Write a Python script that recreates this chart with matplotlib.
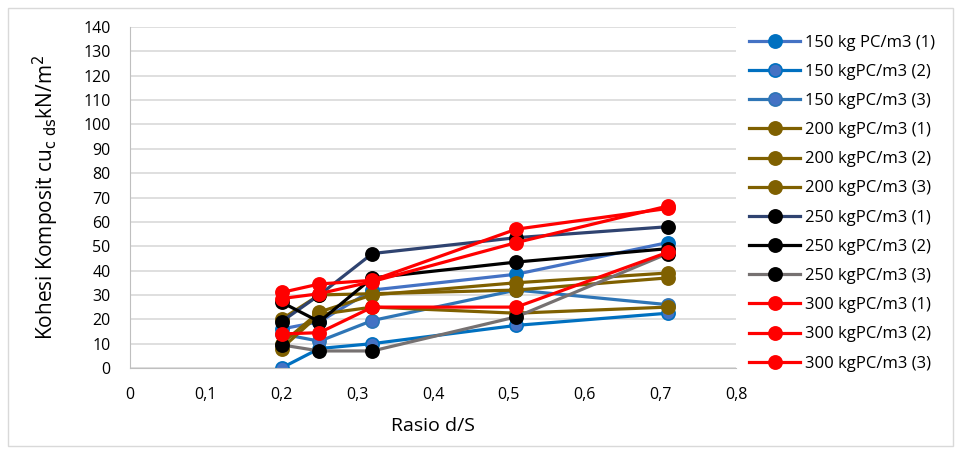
import matplotlib.pyplot as plt
from matplotlib.patches import Rectangle
from matplotlib.ticker import FuncFormatter, MultipleLocator

plt.rcParams['font.family'] = ['Open Sans', 'DejaVu Sans']

rasio = [0.2, 0.25, 0.32, 0.51, 0.71]

labels = ['150 kg PC/m3 (1)', '150 kgPC/m3 (2)', '150 kgPC/m3 (3)',
          '200 kgPC/m3 (1)', '200 kgPC/m3 (2)', '200 kgPC/m3 (3)',
          '250 kgPC/m3 (1)', '250 kgPC/m3 (2)', '250 kgPC/m3 (3)',
          '300 kgPC/m3 (1)', '300 kgPC/m3 (2)', '300 kgPC/m3 (3)']

kohesi = [
    [16, 19, 32, 38.5, 51.5],
    [0, 8, 10, 17.5, 22.5],
    [14, 11, 19.5, 32, 26],
    [8, 22, 25, 22.5, 25],
    [10, 23, 30, 35, 39],
    [20, 30, 30.5, 32, 37],
    [19, 30, 47, 53.5, 58],
    [27, 19, 37, 43.5, 49],
    [9.5, 7, 7, 21, 47],
    [31, 34.5, 36, 57, 65.5],
    [28.5, 30.5, 35.5, 51.5, 66.5],
    [14, 14.5, 25, 25, 47.5],
]

line_colors = ['#4472C4', '#0070C0', '#2E75B6',
               '#7F6000', '#7F6000', '#7F6000',
               '#2F4370', '#000000', '#767171',
               '#FF0000', '#FF0000', '#FF0000']
face_colors = ['#0070C0', '#4472C4', '#4472C4',
               '#7F6000', '#7F6000', '#7F6000',
               '#000000', '#000000', '#000000',
               '#FF0000', '#FF0000', '#FF0000']
edge_colors = ['#0070C0', '#0070C0', '#2E75B6',
               '#7F6000', '#7F6000', '#7F6000',
               '#000000', '#000000', '#000000',
               '#FF0000', '#FF0000', '#FF0000']

fig = plt.figure(figsize=(9.59, 4.54), dpi=100)
ax = fig.add_axes([130 / 959, 1 - 368 / 454, 606 / 959, 341 / 454])

for lab, vals, lc, fc, ec in zip(labels, kohesi, line_colors, face_colors, edge_colors):
    ax.plot(rasio, vals, color=lc, lw=2.3, marker='o', markersize=9.5,
            markerfacecolor=fc, markeredgecolor=ec, markeredgewidth=1.2,
            label=lab)

ax.set_xlim(0, 0.8)
ax.set_ylim(0, 140)
ax.xaxis.set_major_locator(MultipleLocator(0.1))
ax.yaxis.set_major_locator(MultipleLocator(10))
ax.xaxis.set_major_formatter(FuncFormatter(lambda v, p: ('%g' % round(v, 1)).replace('.', ',')))
ax.grid(axis='y', color='#D9D9D9', lw=1.2)
ax.set_axisbelow(True)
for s in ['top', 'right']:
    ax.spines[s].set_visible(False)
for s in ['left', 'bottom']:
    ax.spines[s].set_color('#BFBFBF')
ax.tick_params(length=0, labelsize=11.5)
ax.tick_params(axis='y', pad=14)
ax.tick_params(axis='x', pad=14)

ax.set_xlabel('Rasio d/S', fontsize=14, labelpad=10)
ax.set_ylabel(r'Kohesi Komposit cu$_{\mathrm{c\ ds}}$kN/m$^2$', fontsize=15, labelpad=16)

fig.legend(loc='upper left', bbox_to_anchor=(742 / 959, 1 - 28 / 454), frameon=False,
           fontsize=12, handlelength=3.1, handletextpad=0.3, labelspacing=0.79,
           borderaxespad=0)

fig.patches.append(Rectangle((8 / 959, 8 / 454), 945 / 959, 438 / 454, transform=fig.transFigure,
                             fill=False, edgecolor='#D9D9D9', lw=1))

fig.savefig('out.png', dpi=100)
